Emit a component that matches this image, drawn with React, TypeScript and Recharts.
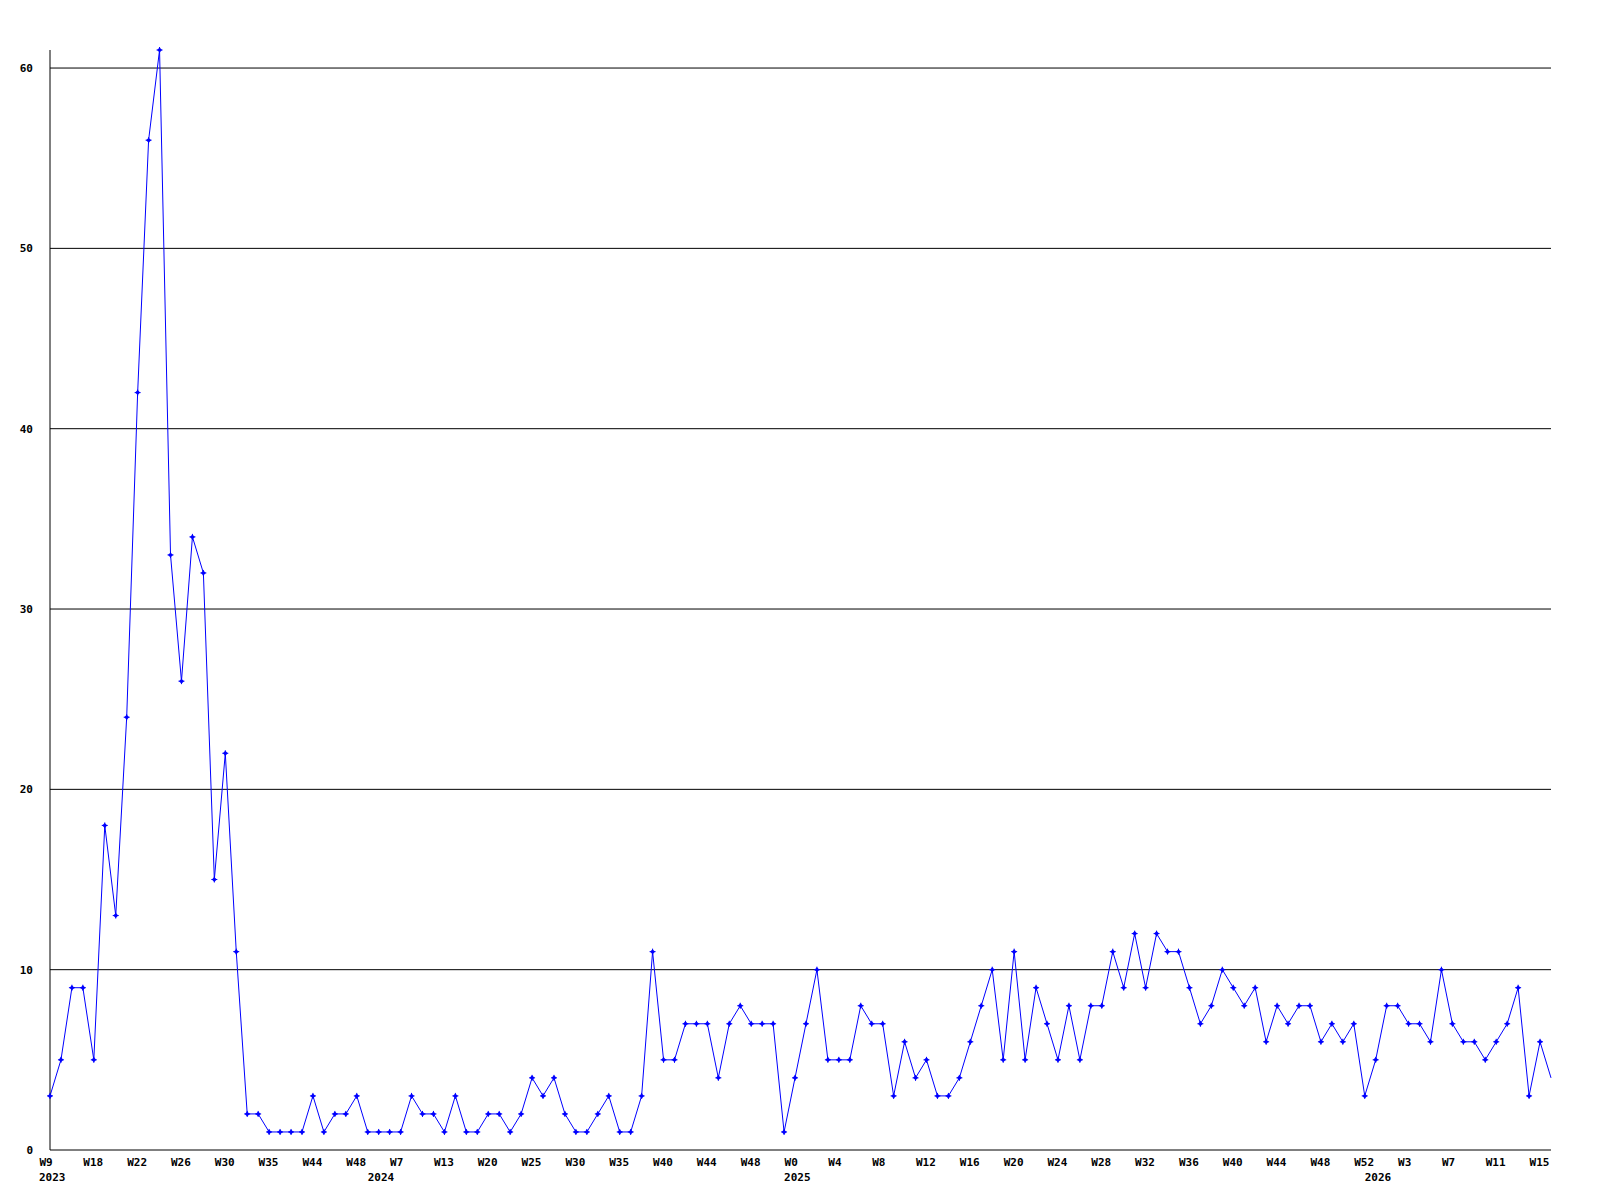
import { LineChart, Line, XAxis, YAxis, ReferenceLine } from 'recharts'

// weekly counts, one value per point on the x axis
const counts = [
  3, 5, 9, 9, 5, 18, 13, 24, 42, 56, 61, 33, 26, 34, 32, 15, 22, 11, 2, 2,
  1, 1, 1, 1, 3, 1, 2, 2, 3, 1, 1, 1, 1, 3, 2, 2, 1, 3, 1, 1,
  2, 2, 1, 2, 4, 3, 4, 2, 1, 1, 2, 3, 1, 1, 3, 11, 5, 5, 7, 7,
  7, 4, 7, 8, 7, 7, 7, 1, 4, 7, 10, 5, 5, 5, 8, 7, 7, 3, 6, 4,
  5, 3, 3, 4, 6, 8, 10, 5, 11, 5, 9, 7, 5, 8, 5, 8, 8, 11, 9, 12,
  9, 12, 11, 11, 9, 7, 8, 10, 9, 8, 9, 6, 8, 7, 8, 8, 6, 7, 6, 7,
  3, 5, 8, 8, 7, 7, 6, 10, 7, 6, 6, 5, 6, 7, 9, 3, 6, 4,
]

// a week label on every 4th point
const weekLabels = [
  'W9', 'W18', 'W22', 'W26', 'W30', 'W35', 'W44', 'W48', 'W7', 'W13',
  'W20', 'W25', 'W30', 'W35', 'W40', 'W44', 'W48', 'W0', 'W4', 'W8',
  'W12', 'W16', 'W20', 'W24', 'W28', 'W32', 'W36', 'W40', 'W44', 'W48',
  'W52', 'W3', 'W7', 'W11', 'W15',
]
const yearLabels = ['2023', '2024', '2025', '2026']
const yearIndex = [0, 30, 68, 121]
const yTicks = [0, 10, 20, 30, 40, 50, 60]

const data = counts.map((v, i) => ({ i, v }))
const xTicks = Array.from(
  new Set([...weekLabels.map((_, k) => k * 4), ...yearIndex])
).sort((a, b) => a - b)

const font = { fontFamily: '"DejaVu Sans Mono", monospace', fontSize: 11, fontWeight: 'bold' as const }

function XTick({ x, y, payload }: any) {
  const i = payload.value
  const week = i % 4 === 0 ? weekLabels[i / 4] : null
  const yi = yearIndex.indexOf(i)
  return (
    <g>
      {week && (
        <text x={x - 10.5} y={y + 16} textAnchor="start" fill="#000" {...font}>
          {week}
        </text>
      )}
      {yi >= 0 && (
        <text x={x - 11} y={y + 31} textAnchor="start" fill="#000" {...font}>
          {yearLabels[yi]}
        </text>
      )}
    </g>
  )
}

function YTick({ x, y, payload }: any) {
  return (
    <text x={x - 17} y={y + 4} textAnchor="end" fill="#000" {...font}>
      {payload.value}
    </text>
  )
}

function Marker(props: any) {
  const { cx, cy, index } = props
  if (index === counts.length - 1) return <g key={`d${index}`} />
  return (
    <g key={`d${index}`}>
      <path d={`M${cx - 2.5},${cy}L${cx},${cy - 2.5}L${cx + 2.5},${cy}L${cx},${cy + 2.5}Z`} fill="#0000ff" />
      <path d={`M${cx - 3},${cy}H${cx + 3}M${cx},${cy - 3}V${cy + 3}`} stroke="#0000ff" strokeWidth={1} />
    </g>
  )
}

export default function App() {
  return (
    <div style={{ position: 'absolute', left: 0, top: 0, background: '#fff' }}>
      <LineChart width={1600} height={1200} data={data} margin={{ top: 50, right: 49, bottom: 0, left: 0 }}>
        <XAxis
          dataKey="i"
          type="number"
          domain={[0, counts.length - 1]}
          ticks={xTicks}
          interval={0}
          height={50}
          tickSize={0}
          tickMargin={0}
          tickLine={false}
          axisLine={{ stroke: '#000' }}
          tick={<XTick />}
        />
        <YAxis
          domain={[0, 61]}
          ticks={yTicks}
          interval={0}
          width={50}
          tickSize={0}
          tickMargin={0}
          tickLine={false}
          axisLine={{ stroke: '#000' }}
          tick={<YTick />}
        />
        {yTicks.slice(1).map(t => (
          <ReferenceLine key={t} y={t} stroke="#000" strokeWidth={1} />
        ))}
        <Line
          type="linear"
          dataKey="v"
          stroke="#0000ff"
          strokeWidth={1}
          dot={Marker}
          activeDot={false}
          isAnimationActive={false}
        />
      </LineChart>
    </div>
  )
}
